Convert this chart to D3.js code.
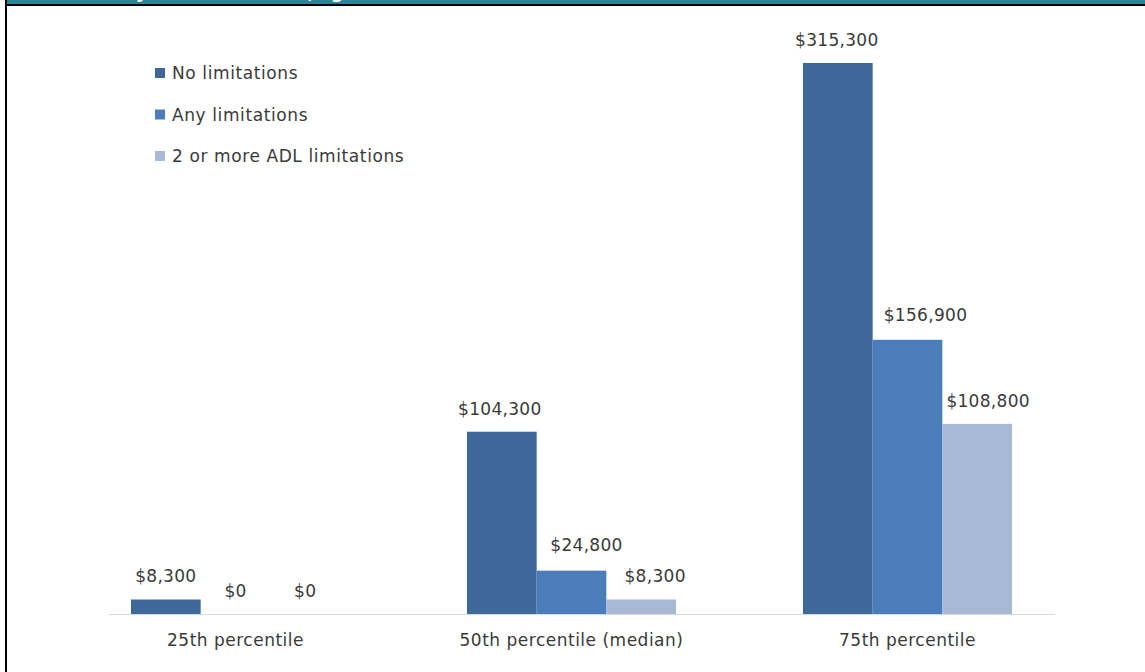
<!DOCTYPE html>
<html>
<head>
<meta charset="utf-8">
<script src="https://cdn.jsdelivr.net/npm/d3@7"></script>
<style>
  body { margin: 0; background: #fff; }
  svg { display: block; }
  text { font-family: "DejaVu Sans", sans-serif; fill: #3a3a3a; }
</style>
</head>
<body>
<div id="chart"></div>
<script>
// chart data
const categories = ['25th percentile', '50th percentile (median)', '75th percentile'];
const seriesNames = ['No limitations', 'Any limitations', '2 or more ADL limitations'];
const noLimitations = [8300, 104300, 315300];
const anyLimitations = [0, 24800, 156900];
const adlLimitations = [0, 8300, 108800];
const seriesColors = ['#3e679a', '#4b7dbb', '#a8b8d7'];
const titleText = '(by limitation status, ages 65+)';

// hand-nudged label offsets [dx, dy] per category and series, like the original
const labelNudge = [
  [[0, -17], [0, -17], [0, -17]],
  [[-2, -17], [15, -20], [14, -17]],
  [[-1, -17], [18, -19], [11, -17]]
];

const width = 1145, height = 672;
const values = [noLimitations, anyLimitations, adlLimitations];

const svg = d3.select('#chart')
  .append('svg')
  .attr('width', width)
  .attr('height', height);

svg.append('rect').attr('width', width).attr('height', height).attr('fill', '#fff');

// header band, the title above it is cropped off in the original
svg.append('defs').append('clipPath').attr('id', 'band')
  .append('rect').attr('x', 7).attr('y', 0).attr('width', width - 7).attr('height', 4);
svg.append('rect').attr('x', 7).attr('y', 0).attr('width', width - 7).attr('height', 4).attr('fill', '#2f8399');
svg.append('g')
  .attr('clip-path', 'url(#band)')
  .append('text')
  .attr('x', 116).attr('y', -2)
  .attr('textLength', 300)
  .attr('lengthAdjust', 'spacing')
  .style('fill', '#fff').style('font-size', '18px').style('font-weight', 'bold')
  .text(titleText);
svg.append('rect').attr('x', 7).attr('y', 4).attr('width', width - 7).attr('height', 2).attr('fill', '#000');
svg.append('rect').attr('x', 5).attr('y', 0).attr('width', 2).attr('height', height).attr('fill', '#000');

// scales
const x0 = d3.scaleBand()
  .domain(categories)
  .range([67.5, 1075.5]);

const gap = x0.bandwidth() * 0.378;
const x1 = d3.scaleBand()
  .domain(seriesNames)
  .range([gap / 2, x0.bandwidth() - gap / 2]);

const y = d3.scaleLinear()
  .domain([0, 315300])
  .range([614, 63]);

// baseline
svg.append('line')
  .attr('x1', 109).attr('x2', 1055)
  .attr('y1', y(0) + 0.5).attr('y2', y(0) + 0.5)
  .attr('stroke', '#d9d9d9').attr('stroke-width', 1);

// bars
const groups = svg.selectAll('.group')
  .data(categories)
  .enter()
  .append('g')
  .attr('class', 'group')
  .attr('transform', d => 'translate(' + x0(d) + ',0)');

groups.selectAll('rect')
  .data((d, i) => seriesNames.map((s, j) => ({ series: s, value: values[j][i], color: seriesColors[j] })))
  .enter()
  .append('rect')
  .attr('x', d => x1(d.series))
  .attr('width', x1.bandwidth())
  .attr('y', d => y(d.value))
  .attr('height', d => y(0) - y(d.value))
  .attr('fill', d => d.color);

// value labels
groups.selectAll('.value')
  .data((d, i) => seriesNames.map((s, j) => ({ series: s, value: values[j][i], nudge: labelNudge[i][j] })))
  .enter()
  .append('text')
  .attr('class', 'value')
  .attr('x', d => x1(d.series) + x1.bandwidth() / 2 + d.nudge[0])
  .attr('y', d => y(d.value) + d.nudge[1])
  .attr('text-anchor', 'middle')
  .style('font-size', '17px')
  .style('letter-spacing', '0.3px')
  .text(d => '$' + d3.format(',')(d.value));

// category labels
svg.selectAll('.cat')
  .data(categories)
  .enter()
  .append('text')
  .attr('class', 'cat')
  .attr('x', d => x0(d) + x0.bandwidth() / 2)
  .attr('y', 646)
  .attr('text-anchor', 'middle')
  .style('font-size', '17px')
  .style('letter-spacing', '0.5px')
  .text(d => d);

// legend
const legend = svg.selectAll('.legend')
  .data(seriesNames)
  .enter()
  .append('g')
  .attr('class', 'legend')
  .attr('transform', (d, i) => 'translate(155,' + (68 + i * 41.5) + ')');

legend.append('rect')
  .attr('width', 10).attr('height', 10)
  .attr('fill', (d, i) => seriesColors[i]);

legend.append('text')
  .attr('x', 17).attr('y', 11)
  .style('font-size', '17px')
  .style('letter-spacing', '0.6px')
  .text(d => d);
</script>
</body>
</html>
